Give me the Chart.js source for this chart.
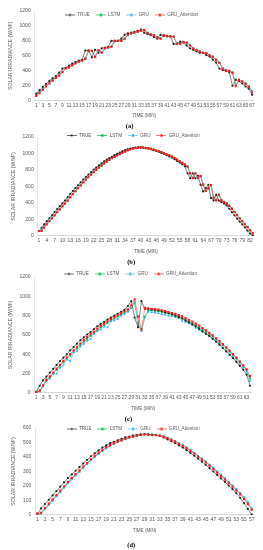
<!DOCTYPE html>
<html>
<head>
<meta charset="utf-8">
<script src="https://cdn.jsdelivr.net/npm/chart.js@4.4.1/dist/chart.umd.min.js"></script>
<style>
body { margin: 0; background: #fff; width: 263px; height: 550px; position: relative; overflow: hidden; }
canvas { position: absolute; left: 0; }
</style>
</head>
<body>
<canvas id="chartA" width="263" height="133" style="top:0px"></canvas>
<canvas id="chartB" width="263" height="140" style="top:130px"></canvas>
<canvas id="chartC" width="263" height="160" style="top:265px"></canvas>
<canvas id="chartD" width="263" height="135" style="top:415px"></canvas>
<script>
'use strict';

const seriesNames = ['TRUE', 'LSTM', 'GRU', 'GRU_Attention'];

// (a)
const trueA = [95,140,185,225,265,300,330,375,430,440,470,495,520,535,545,670,670,580,680,640,
  700,710,720,800,800,800,830,880,900,910,920,935,950,910,890,880,850,830,880,870,
  860,860,760,760,790,780,740,700,680,660,640,640,610,590,550,510,430,410,400,380,
  200,280,260,230,190,160,80];
const lstmA = [80,112,152,198,238,275,312,340,388,438,448,476,502,526,540,562,668,664,590,672,
  648,700,714,726,798,800,802,830,878,898,910,924,940,948,908,890,878,850,832,872,
  866,860,856,765,765,785,778,742,702,680,660,642,640,610,590,550,510,435,410,400,
  378,210,272,258,230,192,125];
const gruA = [85,118,158,200,242,280,315,345,390,436,450,474,500,524,538,555,660,670,595,668,
  652,698,710,724,790,805,804,826,875,895,908,920,936,946,910,888,880,852,835,868,
  865,862,855,770,768,782,775,745,705,682,662,645,642,612,592,552,512,440,412,402,
  380,220,268,260,232,195,130];
const attA = [65,100,145,190,230,268,305,335,380,432,445,472,498,522,536,560,672,668,582,678,
  642,702,712,722,802,802,800,832,882,902,912,922,938,945,905,886,876,846,828,876,
  868,858,858,758,762,788,776,738,698,676,656,638,638,606,586,546,505,428,406,396,
  372,195,278,256,225,185,110];

// (b)
const trueB = [60,100,140,180,215,250,290,325,360,395,430,470,510,545,580,615,650,685,715,745,
  775,805,830,855,880,905,925,945,960,980,995,1010,1025,1040,1050,1060,1065,1070,1075,1075,
  1070,1065,1060,1050,1040,1030,1020,1005,995,980,965,950,930,910,890,870,845,760,700,760,
  700,730,620,540,580,620,460,430,500,430,410,395,370,330,290,250,210,175,140,105,
  65,30,5];
const lstmB = [62,68,108,148,185,218,255,292,328,362,398,432,472,510,546,582,616,652,686,716,
  746,776,806,832,856,882,904,925,944,962,978,995,1010,1025,1038,1050,1060,1066,1070,1074,
  1074,1070,1064,1058,1048,1038,1030,1018,1005,992,980,965,948,928,908,888,868,840,755,705,
  755,705,725,625,550,578,615,470,440,505,440,415,398,370,335,296,258,218,182,148,
  112,72,35];
const gruB = [58,72,112,150,186,220,258,294,330,365,400,435,474,512,548,584,618,654,688,718,
  748,778,808,834,858,884,906,926,946,962,980,996,1012,1026,1040,1052,1060,1066,1070,1073,
  1072,1068,1062,1055,1045,1035,1026,1014,1000,988,975,960,944,924,904,884,864,835,750,700,
  750,700,720,618,548,575,612,465,435,500,436,412,395,366,330,292,254,214,178,145,
  110,70,30];
const attB = [60,62,100,140,178,212,248,288,322,358,392,428,468,506,542,578,612,648,682,712,
  742,772,802,828,852,878,902,922,942,958,976,992,1008,1022,1036,1048,1058,1064,1068,1072,
  1072,1066,1062,1056,1046,1036,1028,1016,1002,990,978,962,946,926,906,886,866,842,762,702,
  760,702,728,622,545,580,618,462,432,500,432,410,392,365,328,290,252,212,178,142,
  108,68,32];

// (c)
const trueC = [10,75,130,170,210,250,290,330,365,400,440,475,510,545,575,605,630,660,690,715,
  735,760,780,800,820,840,860,900,950,780,680,950,870,870,865,860,855,845,835,825,
  815,800,785,770,750,730,710,690,665,640,615,590,560,530,500,465,430,395,360,320,
  280,240,190,75];
const lstmC = [15,20,70,125,160,200,240,280,318,352,388,425,460,495,530,560,590,620,648,678,
  702,726,750,770,790,812,832,852,880,930,720,650,790,850,855,850,845,840,832,822,
  812,802,790,775,760,742,722,702,682,658,635,610,585,555,525,495,460,428,392,355,
  318,280,240,150];
const gruC = [5,15,65,140,145,200,200,260,285,345,330,420,430,480,505,540,560,610,640,655,
  685,680,740,750,765,800,815,840,880,950,700,640,780,840,835,830,825,815,810,800,
  795,785,775,745,735,720,700,675,655,630,610,590,565,540,510,470,430,400,370,330,
  300,260,220,120];
const attC = [8,25,80,135,172,212,252,292,332,368,402,442,478,512,548,578,608,634,664,694,
  718,740,764,784,804,824,846,866,905,970,790,660,880,875,872,868,862,856,848,838,
  828,818,806,792,776,758,738,718,698,672,648,622,596,566,536,506,472,438,402,366,
  326,286,246,175];

// (d)
const trueD = [10,45,75,105,135,165,195,225,255,280,305,330,355,380,405,425,445,465,480,495,
  505,515,525,535,540,548,553,557,557,555,553,550,545,535,522,510,495,480,465,447,
  428,408,388,368,346,323,300,276,252,228,203,178,150,118,82,42,3];
const lstmD = [5,12,40,70,100,130,160,190,220,248,275,300,326,352,378,402,422,442,462,478,
  492,504,514,524,534,540,546,552,556,556,554,552,548,542,532,520,508,494,480,464,
  446,426,406,386,366,344,322,298,274,250,226,200,174,148,118,84,40];
const gruD = [3,10,38,68,98,128,158,188,218,246,272,298,324,350,376,400,420,440,460,476,
  490,502,512,522,532,538,546,552,558,558,556,554,550,544,534,522,510,496,482,466,
  448,430,410,390,370,348,326,302,278,254,230,205,180,152,124,90,45];
const attD = [8,15,48,78,108,138,168,198,228,256,282,308,334,358,384,408,428,448,468,482,
  496,506,516,526,536,540,548,552,555,552,550,550,546,540,530,518,506,490,476,460,
  442,422,402,382,362,340,316,292,268,244,220,195,168,142,110,75,35];

const styles = [
  { line: '#4d4d4d', point: '#222222', shape: 'circle', r: 1.1 },
  { line: '#2fbf5f', point: '#00b050', shape: 'rect', r: 1.3 },
  { line: '#6cc3ee', point: '#3aaee8', shape: 'rect', r: 1.2 },
  { line: '#ff6060', point: '#ff1a1a', shape: 'rect', r: 1.5 }
];

const grey = '#595959';
const sans = "'Liberation Sans', Arial, sans-serif";
const legendFont = 4.6;
const legendPad = 6;

// legend sample: short line with the marker in the middle
function legendIcon(st) {
  const c = document.createElement('canvas');
  c.width = 10; c.height = 5;
  const g = c.getContext('2d');
  g.strokeStyle = st.line; g.lineWidth = 0.8;
  g.beginPath(); g.moveTo(0, 2.5); g.lineTo(10, 2.5); g.stroke();
  g.fillStyle = st.point;
  if (st.shape === 'circle') { g.beginPath(); g.arc(5, 2.5, 1.1, 0, Math.PI * 2); g.fill(); }
  else g.fillRect(3.8, 1.3, 2.4, 2.4);
  return c;
}
const icons = styles.map(legendIcon);

// legend takes no room and sits inside the top of the plot, as in Excel
const legendInside = {
  id: 'legendInside',
  beforeUpdate(chart) {
    const lg = chart.legend;
    if (lg && !lg._inside) {
      const fit = lg.fit;
      lg.fit = function () { fit.call(this); this.height = 0; };
      lg._inside = true;
    }
  },
  afterLayout(chart, args, opts) {
    const lg = chart.legend;
    lg.top = opts.y - legendPad - legendFont / 2;
    lg.bottom = lg.top + 20;
    lg.height = 20;
    lg.left += opts.dx;
    lg.right += opts.dx;
  }
};

function makeChart(id, series, yMax, yStep, labelStep, panel, pad, legendY, titlePad) {
  const labels = series[0].map((v, i) => i + 1);
  const datasets = series.map((vals, i) => ({
    label: seriesNames[i],
    data: vals,
    borderColor: styles[i].line,
    backgroundColor: styles[i].point,
    pointBackgroundColor: styles[i].point,
    pointBorderColor: styles[i].point,
    pointStyle: styles[i].shape,
    pointRadius: styles[i].r,
    pointBorderWidth: 0,
    borderWidth: 0.7,
    tension: 0,
    order: [1, 3, 2, 0][i]
  }));

  new Chart(document.getElementById(id).getContext('2d'), {
    type: 'line',
    data: { labels: labels, datasets: datasets },
    plugins: [legendInside],
    options: {
      responsive: false,
      animation: false,
      layout: { padding: pad },
      plugins: {
        tooltip: { enabled: false },
        legendInside: { y: legendY, dx: 2 },
        legend: {
          position: 'top',
          align: 'center',
          labels: {
            usePointStyle: true,
            pointStyleWidth: 10,
            padding: legendPad,
            color: grey,
            font: { family: sans, size: legendFont },
            generateLabels: (chart) => chart.data.datasets.map((ds, i) => ({
              text: ds.label,
              pointStyle: icons[i],
              fillStyle: styles[i].point,
              strokeStyle: styles[i].line,
              lineWidth: 0,
              hidden: false,
              datasetIndex: i,
              fontColor: grey
            }))
          }
        },
        title: {
          display: true,
          text: panel,
          position: 'bottom',
          color: '#000',
          font: { family: "'Liberation Serif', serif", size: 6.5, weight: 'bold' },
          padding: { top: titlePad, bottom: 0 }
        }
      },
      scales: {
        x: {
          offset: true,
          grid: { display: false, drawTicks: false },
          border: { display: true, color: '#d0d0d0', width: 0.8 },
          ticks: {
            autoSkip: false,
            maxRotation: 0,
            minRotation: 0,
            padding: 2,
            color: grey,
            font: { family: sans, size: 5 },
            callback: function (value, index) {
              return index % labelStep === 0 ? this.getLabelForValue(value) : '';
            }
          },
          title: {
            display: true,
            text: 'TIME (MIN)',
            color: grey,
            font: { family: sans, size: 4.6 },
            padding: { top: 2.5, bottom: 0 }
          }
        },
        y: {
          min: 0,
          max: yMax,
          grid: { display: false, drawTicks: false },
          border: { display: true, color: '#e0e0e0', width: 0.8 },
          ticks: {
            stepSize: yStep,
            padding: 4,
            color: grey,
            font: { family: sans, size: 5 },
            callback: (v) => String(v)
          },
          title: {
            display: true,
            text: 'SOLAR IRRADIANCE (W/M²)',
            color: grey,
            font: { family: sans, size: 5.2 },
            padding: { top: 2, bottom: 2 }
          }
        }
      }
    }
  });
}

makeChart('chartA', [trueA, lstmA, gruA, attA], 1200, 200, 2, '(a)',
  { left: 5.3, right: 9.3, top: 11, bottom: 3.1 }, 15, 3.4);
makeChart('chartB', [trueB, lstmB, gruB, attB], 1200, 200, 3, '(b)',
  { left: 8.3, right: 9, top: 7, bottom: 4.1 }, 5.5, 4.1);
makeChart('chartC', [trueC, lstmC, gruC, attC], 1200, 200, 2, '(c)',
  { left: 5.2, right: 11.3, top: 12, bottom: 2.1 }, 9, 4.1);
makeChart('chartD', [trueD, lstmD, gruD, attD], 600, 100, 2, '(d)',
  { left: 8.8, right: 9.4, top: 13, bottom: 1.1 }, 14, 8.1);
</script>
</body>
</html>
